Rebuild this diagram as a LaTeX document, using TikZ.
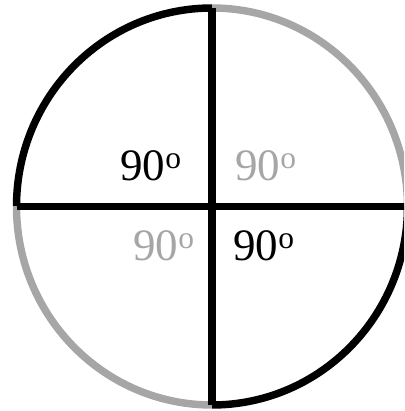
\documentclass[tikz,border=0pt]{standalone}
\usepackage{fontspec}
\setmainfont{Liberation Serif}
\usepackage{xcolor}
\definecolor{arcgray}{HTML}{A6A6A6}
\usetikzlibrary{positioning}

\begin{document}
\begin{tikzpicture}[
    x=0.025cm, y=0.025cm,
    darkarc/.style={draw=black, line width=5.3pt},
    lightarc/.style={draw=arcgray, line width=5.3pt},
    axis/.style={draw=black, line width=5.3pt},
    angle/.style={inner sep=0pt, anchor=base west, font=\fontsize{32}{36}\selectfont},
    anglegray/.style={angle, text=arcgray}
]
    % Frame
    \useasboundingbox (0,0) rectangle (404,411);
    \clip (0,0) rectangle (404,411);

    % Centre and ends of the axes
    \coordinate (o) at (212,204.5);
    \coordinate (top) at (212,403);
    \coordinate (bottom) at (212,6);
    \coordinate (left) at (16.5,204.5);
    \coordinate (right) at (412,204.5);

    % Quarter arcs
    \draw [darkarc] (top) arc [start angle=90, end angle=180, x radius=195.5, y radius=198.5];
    \draw [lightarc] (left) arc [start angle=180, end angle=270, x radius=195.5, y radius=198.5];
    \draw [darkarc] (bottom) arc [start angle=270, end angle=360, x radius=195.5, y radius=198.5];
    \draw [lightarc] (right) ++(-4.5,0) arc [start angle=0, end angle=90, x radius=195.5, y radius=198.5];

    % Axes
    \draw [axis] (top) -- (bottom);
    \draw [axis] (left) -- (right);

    % Angle labels
    \node [angle] (tl) at (120,230) {90\textsuperscript{o}};
    \node [anglegray] (tr) at (235,230) {90\textsuperscript{o}};
    \node [anglegray] (bl) at (133,150) {90\textsuperscript{o}};
    \node [angle] (br) at (233,150) {90\textsuperscript{o}};

\end{tikzpicture}
\end{document}
